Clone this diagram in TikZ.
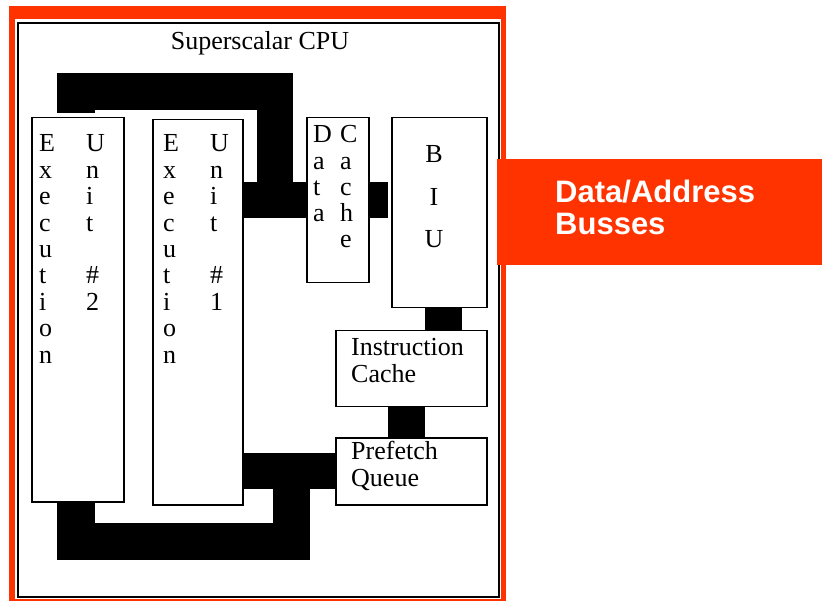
\documentclass[tikz,border=0pt]{standalone}
\usepackage{fontspec}
\setmainfont{Liberation Serif}
\newfontfamily\busfont{Liberation Sans}
\definecolor{frred}{RGB}{255,51,0}
\newcommand\vstk[2]{\vtop{\baselineskip=#1\lineskip=0pt\lineskiplimit=-100pt #2}}
\newcommand\vr[1]{\hbox{#1}}
\tikzset{
  unitbox/.style={draw, line width=1.5pt, fill=white, anchor=north west, inner sep=0pt},
  lbl/.style={anchor=base west, inner sep=0pt, font=\fontsize{26}{26}\selectfont},
  bus/.style={fill=black},
}
\begin{document}
\begin{tikzpicture}[x=1pt,y=-1pt]
\useasboundingbox (0,0) rectangle (822,601);
\fill[white] (0,0) rectangle (822,601);
% frame
\fill[frred] (9,6) rectangle (506,601);
\fill[white] (15,19) rectangle (501,598.5);
\draw[line width=2.3pt] (18.3,22.8) rectangle (498.8,597);
\node[anchor=base, inner sep=0pt, font=\fontsize{26}{26}\selectfont] (title) at (260,49.5) {Superscalar CPU};
% busses
\fill[bus] (57,73) rectangle (293,110);
\fill[bus] (57,110) rectangle (95,113);
\fill[bus] (257,110) rectangle (293,182);
\fill[bus] (242,182) rectangle (306,218);
\fill[bus] (368,182) rectangle (388,218);
\fill[bus] (425,307) rectangle (462,330);
\fill[bus] (388,406) rectangle (425,437);
\fill[bus] (242,453) rectangle (335,489);
\fill[bus] (273,489) rectangle (310,560);
\fill[bus] (57,523) rectangle (310,560);
\fill[bus] (57,501) rectangle (95,523);
% boxes
\node[unitbox, minimum width=92pt, minimum height=384pt] (eu2) at (31,117) {};
\node[unitbox, minimum width=90pt, minimum height=385pt] (eu1) at (152,119) {};
\node[unitbox, minimum width=62pt, minimum height=165pt] (dc) at (306,117) {};
\node[unitbox, minimum width=95pt, minimum height=190pt] (biu) at (391,117) {};
\node[unitbox, minimum width=151pt, minimum height=76pt] (ic) at (335,330) {};
\node[unitbox, minimum width=151pt, minimum height=67pt] (pq) at (335,437) {};
% labels
\node[lbl] (eu2a) at (39,152) {\vstk{26.4pt}{\vr{E}\vr{x}\vr{e}\vr{c}\vr{u}\vr{t}\vr{i}\vr{o}\vr{n}}};
\node[lbl] (eu2b) at (86,152) {\vstk{26.4pt}{\vr{U}\vr{n}\vr{i}\vr{t}\vr{}\vr{\#}\vr{2}}};
\node[lbl] (eu1a) at (163,152) {\vstk{26.4pt}{\vr{E}\vr{x}\vr{e}\vr{c}\vr{u}\vr{t}\vr{i}\vr{o}\vr{n}}};
\node[lbl] (eu1b) at (210,152) {\vstk{26.4pt}{\vr{U}\vr{n}\vr{i}\vr{t}\vr{}\vr{\#}\vr{1}}};
\node[lbl] (dca) at (313,143) {\vstk{26.2pt}{\vr{D}\vr{a}\vr{t}\vr{a}}};
\node[lbl] (dcb) at (340,143) {\vstk{26.2pt}{\vr{C}\vr{a}\vr{c}\vr{h}\vr{e}}};
\node[lbl, anchor=base] (biut) at (434,163) {\vstk{42.5pt}{\hbox to 0pt{\hss B\hss}\hbox to 0pt{\hss I\hss}\hbox to 0pt{\hss U\hss}}};
\node[lbl] (ict) at (351,356) {\vstk{26.7pt}{\vr{Instruction}\vr{Cache}}};
\node[lbl] (pqt) at (351,459) {\vstk{27pt}{\vr{Prefetch}\vr{Queue}}};
% data/address band
\fill[frred] (497,159) rectangle (822,265);
\node[anchor=base west, inner sep=0pt, text=white, font=\busfont\bfseries\fontsize{31}{31}\selectfont] (dab) at (555,203) {\vstk{32pt}{\vr{Data/Address}\vr{Busses}}};
\end{tikzpicture}
\end{document}
